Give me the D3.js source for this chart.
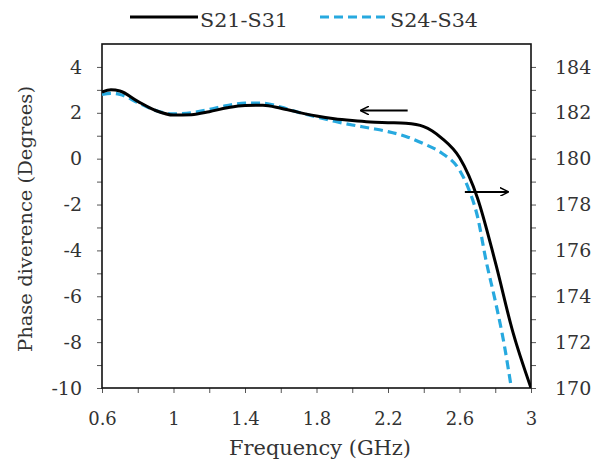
<!DOCTYPE html>
<html>
<head>
<meta charset="utf-8">
<script src="https://cdn.jsdelivr.net/npm/d3@7"></script>
<style>
  body { margin: 0; background: #fff; }
  svg { display: block; }
</style>
</head>
<body>
<div id="chart"></div>
<script>
// S21-S31 (left axis)
const freqA = [0.6, 0.65, 0.7, 0.8, 0.9, 1.0, 1.1, 1.2, 1.3, 1.4, 1.5, 1.6, 1.7, 1.8, 1.9, 2.0, 2.1, 2.2, 2.3, 2.4, 2.5, 2.6, 2.7, 2.8, 2.9, 3.0];
const phaseA = [2.9, 3.0, 2.95, 2.5, 2.1, 1.9, 1.92, 2.05, 2.22, 2.32, 2.33, 2.2, 2.02, 1.86, 1.74, 1.66, 1.6, 1.57, 1.54, 1.4, 0.9, 0.05, -1.7, -4.5, -7.6, -10];
// S24-S34 (right axis)
const freqB = [0.6, 0.65, 0.7, 0.8, 0.9, 1.0, 1.1, 1.2, 1.3, 1.4, 1.5, 1.6, 1.7, 1.8, 1.9, 2.0, 2.1, 2.2, 2.3, 2.4, 2.5, 2.6, 2.65, 2.7, 2.75, 2.8, 2.85, 2.89];
const phaseB = [182.8, 182.85, 182.8, 182.45, 182.1, 181.95, 182.0, 182.15, 182.32, 182.42, 182.42, 182.25, 182.02, 181.82, 181.63, 181.47, 181.33, 181.18, 180.97, 180.65, 180.25, 179.5, 178.7, 177.5, 175.5, 173.8, 171.9, 170];

const xTicks = [0.6, 1, 1.4, 1.8, 2.2, 2.6, 3];
const yLeftTicks = [-10, -8, -6, -4, -2, 0, 2, 4];
const yRightTicks = [170, 172, 174, 176, 178, 180, 182, 184];
const seriesNames = ["S21-S31", "S24-S34"];

const W = 608, H = 462;
const margin = { top: 44, right: 77, bottom: 74, left: 102 };
const width = W - margin.left - margin.right;
const height = H - margin.top - margin.bottom;
const FONT = "DejaVu Serif";

const svg = d3.select("#chart").append("svg")
    .attr("width", W)
    .attr("height", H)
    .attr("font-family", FONT);

const g = svg.append("g")
    .attr("transform", `translate(${margin.left},${margin.top})`);

const x = d3.scaleLinear().domain([0.6, 3]).range([0, width]);
const yL = d3.scaleLinear().domain([-10, 5]).range([height, 0]);
const yR = d3.scaleLinear().domain([170, 185]).range([height, 0]);

const tickColor = "#555";
const textColor = "#333";

function styleAxis(sel, size) {
    sel.attr("font-family", FONT).attr("font-size", size || 18);
    sel.select(".domain").remove();
    sel.selectAll("line").attr("stroke", tickColor);
    sel.selectAll("text").attr("fill", textColor);
}

// minor ticks
g.append("g")
    .attr("transform", `translate(0,${height})`)
    .call(d3.axisBottom(x).tickValues(d3.range(0.8, 3, 0.4)).tickSize(5).tickFormat(""))
    .call(styleAxis);
g.append("g")
    .call(d3.axisLeft(yL).tickValues(d3.range(-9, 5, 2)).tickSize(5).tickFormat(""))
    .call(styleAxis);
g.append("g")
    .attr("transform", `translate(${width},0)`)
    .call(d3.axisRight(yR).tickValues(d3.range(171, 185, 2)).tickSize(5).tickFormat(""))
    .call(styleAxis);

// major ticks
g.append("g")
    .attr("transform", `translate(0,${height})`)
    .call(d3.axisBottom(x).tickValues(xTicks).tickSize(5).tickPadding(19).tickFormat(d3.format("")))
    .call(styleAxis, 18);
g.append("g")
    .call(d3.axisLeft(yL).tickValues(yLeftTicks).tickSize(5).tickPadding(15).tickFormat(d => d < 0 ? "-" + Math.abs(d) : d))
    .call(styleAxis, 19);
g.append("g")
    .attr("transform", `translate(${width},0)`)
    .call(d3.axisRight(yR).tickValues(yRightTicks).tickSize(5).tickPadding(19))
    .call(styleAxis, 19);

// frame
g.append("rect")
    .attr("width", width)
    .attr("height", height)
    .attr("fill", "none")
    .attr("stroke", "#111")
    .attr("stroke-width", 1.6);

g.append("clipPath").attr("id", "clip")
    .append("rect").attr("width", width).attr("height", height);

const lineA = d3.line()
    .x((d, i) => x(freqA[i]))
    .y(d => yL(d))
    .curve(d3.curveMonotoneX);
const lineB = d3.line()
    .x((d, i) => x(freqB[i]))
    .y(d => yR(d))
    .curve(d3.curveMonotoneX);

const plot = g.append("g").attr("clip-path", "url(#clip)");

plot.append("path")
    .attr("d", lineB(phaseB))
    .attr("fill", "none")
    .attr("stroke", "#27a9df")
    .attr("stroke-width", 3.2)
    .attr("stroke-dasharray", "9,5");

plot.append("path")
    .attr("d", lineA(phaseA))
    .attr("fill", "none")
    .attr("stroke", "#000")
    .attr("stroke-width", 3);

// axis arrows
svg.append("defs").append("marker")
    .attr("id", "head")
    .attr("viewBox", "0 0 10 10")
    .attr("refX", 9).attr("refY", 5)
    .attr("markerWidth", 9).attr("markerHeight", 9)
    .attr("markerUnits", "userSpaceOnUse")
    .attr("orient", "auto")
    .append("path")
    .attr("d", "M0,0 L10,5 L0,10")
    .attr("fill", "none")
    .attr("stroke", "#000")
    .attr("stroke-width", 1.6);

function arrow(f0, f1, v) {
    g.append("line")
        .attr("x1", x(f0)).attr("x2", x(f1))
        .attr("y1", yL(v)).attr("y2", yL(v))
        .attr("stroke", "#000")
        .attr("stroke-width", 2)
        .attr("marker-end", "url(#head)");
}
arrow(2.31, 2.05, 2.1);
arrow(2.63, 2.87, -1.45);

// axis titles
svg.append("text")
    .attr("x", 320)
    .attr("y", 455)
    .attr("text-anchor", "middle")
    .attr("fill", textColor)
    .attr("font-size", 20)
    .attr("textLength", 182)
    .attr("lengthAdjust", "spacingAndGlyphs")
    .text("Frequency (GHz)");

svg.append("text")
    .attr("transform", `translate(32,219) rotate(-90)`)
    .attr("text-anchor", "middle")
    .attr("fill", textColor)
    .attr("font-size", 19)
    .attr("textLength", 266)
    .attr("lengthAdjust", "spacingAndGlyphs")
    .text("Phase diverence (Degrees)");

// legend
const legend = svg.append("g").attr("transform", "translate(130,17)");
const items = [
    { name: seriesNames[0], x: 0, color: "#000", dash: null },
    { name: seriesNames[1], x: 190, color: "#27a9df", dash: "9,5" }
];
items.forEach(it => {
    const lg = legend.append("g").attr("transform", `translate(${it.x},0)`);
    lg.append("line")
        .attr("x1", 0).attr("x2", 68)
        .attr("stroke", it.color)
        .attr("stroke-width", 3.2)
        .attr("stroke-dasharray", it.dash);
    lg.append("text")
        .attr("x", 70).attr("y", 10)
        .attr("fill", textColor)
        .attr("font-size", 18)
        .attr("textLength", 88)
        .attr("lengthAdjust", "spacingAndGlyphs")
        .text(it.name);
});
</script>
</body>
</html>
